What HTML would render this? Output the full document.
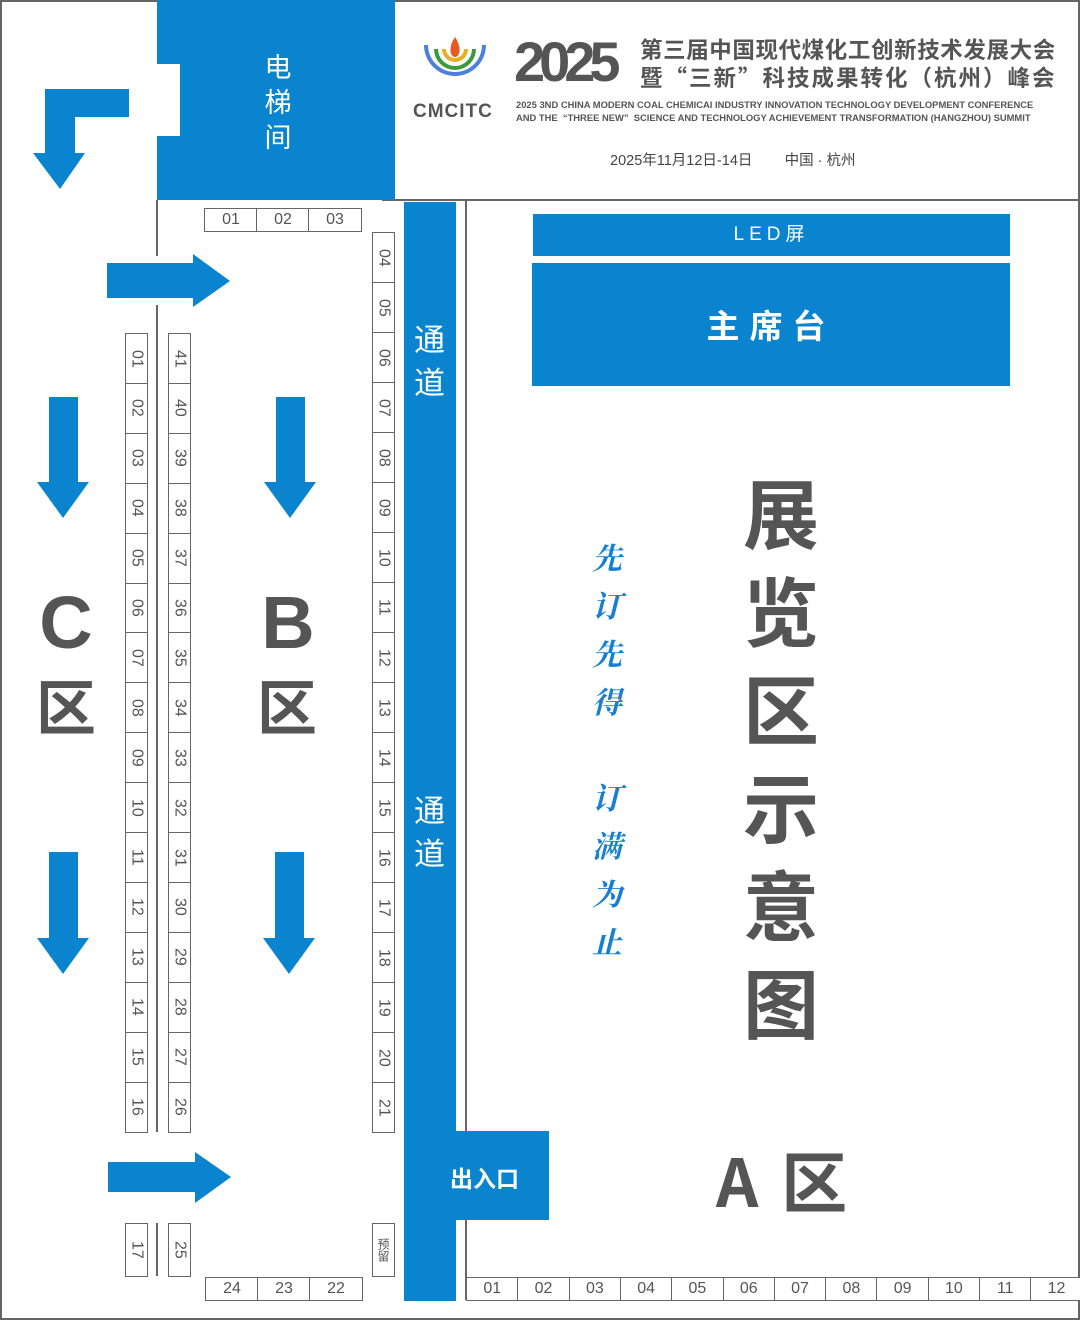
<!DOCTYPE html>
<html><head><meta charset="utf-8"><style>
*{margin:0;padding:0;box-sizing:border-box}
body{width:1080px;height:1320px;position:relative;background:#fff;overflow:hidden;font-family:"Liberation Sans","Noto Sans CJK SC",sans-serif}
.a{position:absolute}
.bl{background:#0A84CE}
.ln{position:absolute;background:#666}
.bx{position:absolute;border:1.5px solid #666;color:#555;font-size:16px;display:flex;align-items:center;justify-content:center;background:#fff}
.v{writing-mode:vertical-rl}
.w{color:#fff}
.big{position:absolute;color:#555;font-weight:bold;font-family:"Noto Sans CJK SC",sans-serif;line-height:1}
</style></head><body>
<div class="a" style="left:0;top:0;width:1080px;height:1320px;border:2px solid #666"></div>
<div class="a" style="left:382px;top:0;width:698px;height:201px;border-bottom:2px solid #666"></div>
<!-- elevator -->
<div class="a bl" style="left:157px;top:0;width:238px;height:200px"></div>
<div class="a" style="left:157px;top:64px;width:23px;height:72px;background:#fff"></div>
<div class="a w" style="left:262px;top:48px;width:32px;font-size:27px;line-height:35px;text-align:center;font-family:'Noto Sans CJK SC',sans-serif">电<br>梯<br>间</div>
<!-- header -->
<svg class="a" style="left:420px;top:35px" width="70" height="60" viewBox="0 0 70 60">
<path d="M4 10 A31 31 0 0 0 66 10 L62 10 A27 27 0 0 1 8 10Z" fill="#4b7fe0"/>
<path d="M14 14 A21 21 0 0 0 56 14 L52 14 A17 17 0 0 1 18 14Z" fill="#3c9a3c"/>
<path d="M22 14 A13 13 0 0 0 48 14 L44 14 A9 9 0 0 1 26 14Z" fill="#e8b020"/>
<path d="M35 2 C28 12 30 22 35 22 C40 22 42 12 35 2Z" fill="#e85a20"/>
</svg>
<div class="a" style="left:413px;top:101px;font-size:19px;font-weight:bold;color:#555;letter-spacing:1px">CMCITC</div>
<div class="a" style="left:514px;top:30px;font-size:56px;font-weight:900;color:#555;letter-spacing:-6px;font-family:'Liberation Sans',sans-serif;line-height:64px">2025</div>
<div class="a" style="left:640px;top:35px;font-size:22.5px;font-weight:bold;color:#555;line-height:28px;white-space:nowrap;font-family:'Noto Sans CJK SC',sans-serif;letter-spacing:0.6px">第三届中国现代煤化工创新技术发展大会<br><span style="letter-spacing:2px">暨“三新”科技成果转化（杭州）峰会</span></div>
<div class="a" style="left:516px;top:98px;font-size:9.4px;font-weight:bold;color:#555;line-height:13px;white-space:nowrap">2025 3ND CHINA MODERN COAL CHEMICAI INDUSTRY INNOVATION TECHNOLOGY DEVELOPMENT CONFERENCE<br>AND THE &nbsp;“THREE NEW” &nbsp;SCIENCE AND TECHNOLOGY ACHIEVEMENT TRANSFORMATION (HANGZHOU) SUMMIT</div>
<div class="a" style="left:610px;top:149px;font-size:14.5px;color:#444;white-space:nowrap">2025年11月12日-14日&nbsp;&nbsp;&nbsp;&nbsp;&nbsp;&nbsp;&nbsp;&nbsp;中国 · 杭州</div>
<!-- walls -->
<div class="ln" style="left:156px;top:200px;width:2px;height:56px"></div>
<div class="ln" style="left:156px;top:305px;width:2px;height:827px"></div>
<div class="ln" style="left:156px;top:1223px;width:2px;height:53px"></div>
<div class="ln" style="left:465px;top:200px;width:2px;height:931px"></div>
<div class="ln" style="left:465px;top:1220px;width:2px;height:80px"></div>
<!-- channel -->
<div class="a bl" style="left:404px;top:202px;width:52px;height:1099px"></div>
<div class="a bl" style="left:420px;top:1131px;width:129px;height:89px"></div>
<div class="a w" style="left:414px;top:316px;font-size:31px;line-height:43px;font-family:'Noto Sans CJK SC',sans-serif">通<br>道</div>
<div class="a w" style="left:414px;top:787px;font-size:31px;line-height:43px;font-family:'Noto Sans CJK SC',sans-serif">通<br>道</div>
<div class="a w" style="left:450px;top:1162px;font-size:23px;font-weight:bold;font-family:'Noto Sans CJK SC',sans-serif;line-height:30px">出入口</div>
<!-- LED -->
<div class="a bl w" style="left:533px;top:214px;width:477px;height:42px;font-size:19px;letter-spacing:5px;text-align:center;line-height:42px">LED屏</div>
<div class="a bl w" style="left:532px;top:263px;width:478px;height:123px;font-size:33px;letter-spacing:10px;text-align:center;line-height:123px;font-weight:bold;font-family:'Noto Sans CJK SC',sans-serif">主席台</div>
<!-- big title -->
<div class="big" style="left:741px;top:461px;font-size:76px;line-height:98px;width:80px;text-align:center">展<br>览<br>区<br>示<br>意<br>图</div>
<div class="a" style="left:590px;top:532px;width:34px;font-size:30px;line-height:48px;color:#1a7fcf;font-style:italic;font-weight:bold;font-family:'Noto Serif CJK SC',serif;text-align:center">先<br>订<br>先<br>得<br><br>订<br>满<br>为<br>止</div>
<div class="big" style="left:716px;top:1146px;font-size:66px;white-space:nowrap;letter-spacing:4px">A 区</div>
<div class="big" style="left:36px;top:586px;font-size:74px;width:60px;text-align:center;font-family:'Liberation Sans',sans-serif">C</div>
<div class="big" style="left:36px;top:675px;font-size:60px;width:60px;text-align:center">区</div>
<div class="big" style="left:258px;top:586px;font-size:74px;width:60px;text-align:center;font-family:'Liberation Sans',sans-serif">B</div>
<div class="big" style="left:257px;top:675px;font-size:60px;width:60px;text-align:center">区</div>
<!-- arrows -->
<svg class="a" style="left:0;top:0" width="1080" height="1320">
<g fill="#0A84CE">
<polygon points="45,89 129,89 129,117 75,117 75,153 85,153 60,189 33,153 45,153"/>
<polygon points="107,263 193,263 193,254 230,281 193,307 193,298 107,298"/>
<polygon points="108,1162 195,1162 195,1152 231,1177 195,1203 195,1192 108,1192"/>
<polygon points="49,397 78,397 78,482 89,482 63,518 37,482 49,482"/>
<polygon points="49,852 78,852 78,938 89,938 63,974 37,938 49,938"/>
<polygon points="276,397 305,397 305,482 316,482 290,518 264,482 276,482"/>
<polygon points="275,852 304,852 304,938 315,938 289,974 263,938 275,938"/>
</g></svg>
<!-- boxes -->
<div class="bx" style="left:204px;top:208px;width:54px;height:24px">01</div>
<div class="bx" style="left:256px;top:208px;width:54px;height:24px">02</div>
<div class="bx" style="left:308px;top:208px;width:54px;height:24px">03</div>
<div class="bx" style="left:205px;top:1277px;width:54px;height:24px">24</div>
<div class="bx" style="left:257px;top:1277px;width:54px;height:24px">23</div>
<div class="bx" style="left:309px;top:1277px;width:54px;height:24px">22</div>
<div class="bx v" style="left:125px;top:1223px;width:23px;height:54px">17</div>
<div class="bx v" style="left:168px;top:1223px;width:23px;height:54px">25</div>
<div class="bx v" style="left:372px;top:1223px;width:23px;height:54px;font-size:12px">预留</div>
<div id="cols"></div>
<script>
var h='';
for(var i=0;i<16;i++){var t=333+i*49.9;
h+='<div class="bx v" style="left:125px;top:'+t+'px;width:23px;height:51px">'+String(i+1).padStart(2,'0')+'</div>';
h+='<div class="bx v" style="left:168px;top:'+t+'px;width:23px;height:51px">'+(41-i)+'</div>';}
for(var i=0;i<18;i++){var t=232+i*50;
h+='<div class="bx v" style="left:372px;top:'+t+'px;width:23px;height:51px">'+String(i+4).padStart(2,'0')+'</div>';}
for(var i=0;i<12;i++){var l=466+i*51.3;
h+='<div class="bx" style="left:'+l+'px;top:1277px;width:52.5px;height:24px">'+String(i+1).padStart(2,'0')+'</div>';}
document.getElementById('cols').innerHTML=h;
</script>
</body></html>
